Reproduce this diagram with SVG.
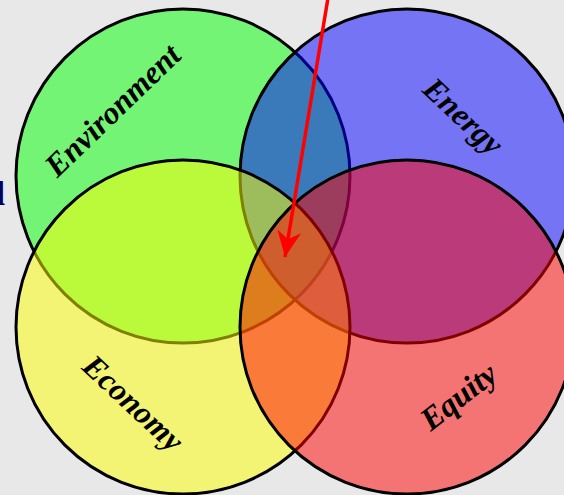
<svg xmlns="http://www.w3.org/2000/svg" width="564" height="495" viewBox="0 0 564 495">
<style>
.c{fill-opacity:0.5;stroke:#000;stroke-width:3}
.t{font-family:"Liberation Serif","Times New Roman",serif;font-weight:bold;font-style:italic;font-size:32px;fill:#000;text-anchor:middle}
</style>
<defs>
<marker id="ah" markerWidth="28" markerHeight="26" refX="26" refY="13" orient="auto" markerUnits="userSpaceOnUse">
<path d="M0,1 L26,13 L0,25 L8,13 Z" fill="#ff0000"/>
</marker>
</defs>
<rect width="564" height="495" fill="#e8e8e8"/>
<text x="-14" y="205" font-family="Liberation Serif,serif" font-weight="bold" font-size="34" fill="#000060">d</text>
<g id="environment"><circle class="c" cx="183" cy="176" r="167" fill="#00ff00"/></g>
<g id="energy"><circle class="c" cx="407" cy="176" r="167" fill="#0000ff"/></g>
<g id="economy"><circle class="c" cx="183" cy="327" r="167" fill="#ffff00"/></g>
<g id="equity"><circle class="c" cx="407" cy="327" r="167" fill="#ff0000"/></g>
<g id="labels">
<text class="t" x="120" y="118" transform="rotate(-44 120 118)">Environment</text>
<text class="t" x="456" y="124" transform="rotate(43 456 124)">Energy</text>
<text class="t" x="126" y="411" transform="rotate(43 126 411)">Economy</text>
<text class="t" x="465" y="405" transform="rotate(-38 465 405)">Equity</text>
</g>
<g id="connectors">
<line x1="328" y1="-2" x2="285" y2="257" stroke="#ff0000" stroke-width="3.5" marker-end="url(#ah)"/>
</g>
</svg>
